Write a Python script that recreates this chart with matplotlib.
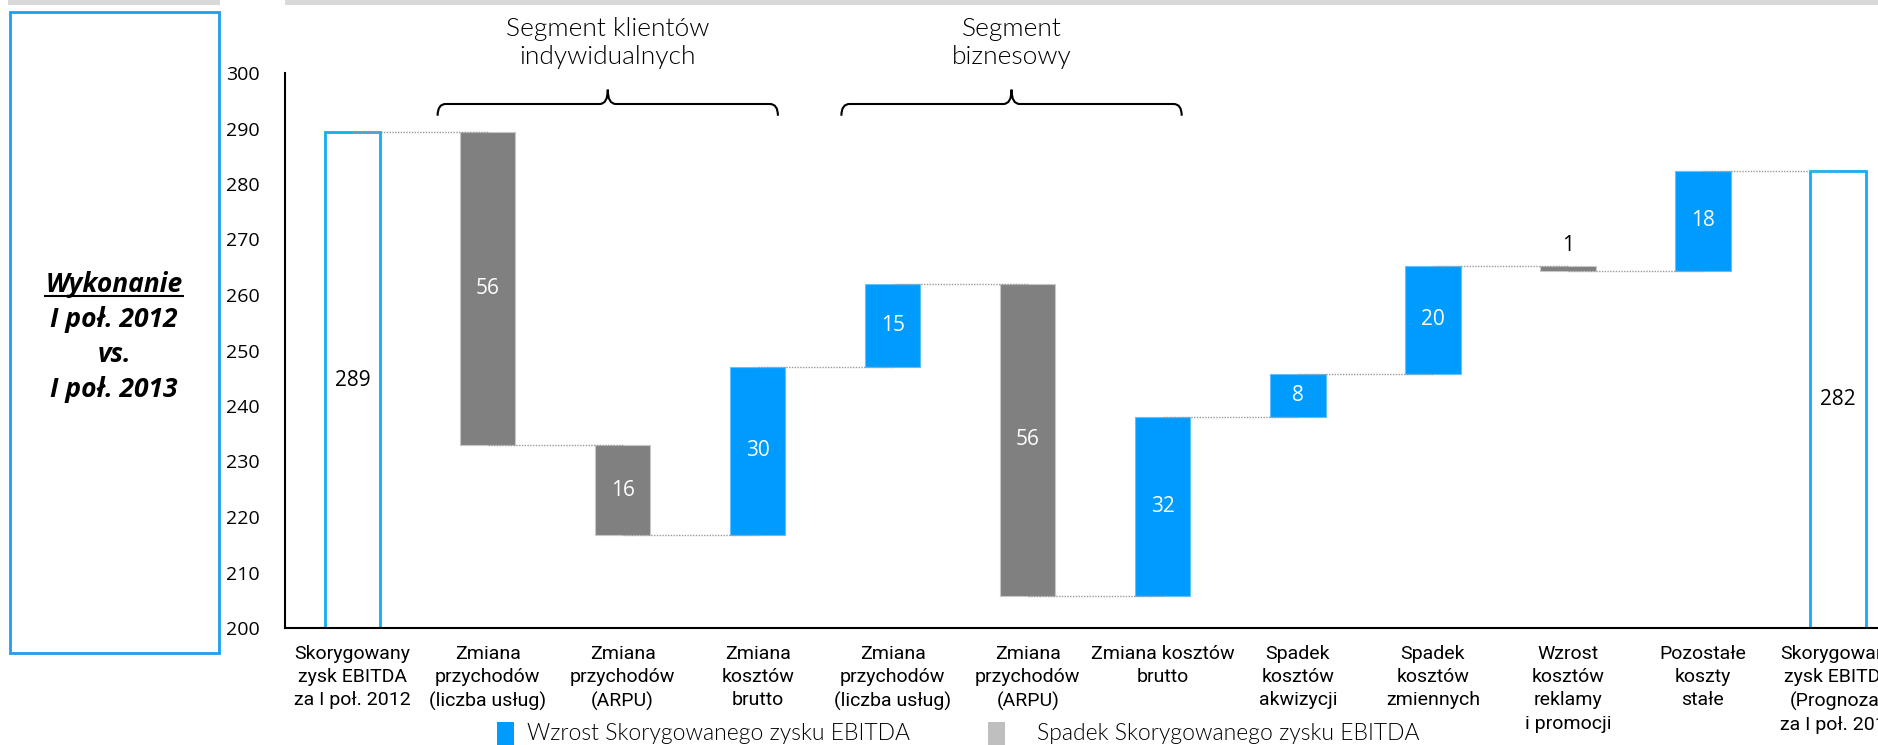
import matplotlib
matplotlib.use("Agg")
import matplotlib.pyplot as plt
import numpy as np
from matplotlib.patches import Rectangle
from matplotlib.path import Path
from matplotlib.patches import PathPatch
from matplotlib.transforms import blended_transform_factory

# EBITDA bridge data (mln zł)
start_value = 289.3
deltas = [-56.4, -16.1, 30.3, 14.9, -56.2, 32.3, 7.6, 19.6, -1.0, 18.1]
categories = [
    "Skorygowany\nzysk EBITDA\nza I poł. 2012",
    "Zmiana\nprzychodów\n(liczba usług)",
    "Zmiana\nprzychodów\n(ARPU)",
    "Zmiana\nkosztów\nbrutto",
    "Zmiana\nprzychodów\n(liczba usług)",
    "Zmiana\nprzychodów\n(ARPU)",
    "Zmiana kosztów\nbrutto",
    "Spadek\nkosztów\nakwizycji",
    "Spadek\nkosztów\nzmiennych",
    "Wzrost\nkosztów\nreklamy\ni promocji",
    "Pozostałe\nkoszty\nstałe",
    "Skorygowany\nzysk EBITDA\n(Prognoza)\nza I poł. 2013",
]
segments = ["Segment klientów\nindywidualnych", "Segment\nbiznesowy"]
segment_spans = [(0.63, 3.15), (3.62, 6.14)]
legend_labels = ["Wzrost Skorygowanego zysku EBITDA", "Spadek Skorygowanego zysku EBITDA"]
panel_lines = ["Wykonanie", "I poł. 2012", "vs.", "I poł. 2013"]

BLUE = "#009BFF"
GRAY = "#808080"
BOX = "#12AEEF"
num_font = ["Open Sans", "DejaVu Sans"]
cat_font = ["Roboto", "DejaVu Sans"]
thin_font = ["Lato", "DejaVu Sans"]

levels = start_value + np.cumsum(deltas)
end_value = levels[-1]

W, H = 1878, 745
fig = plt.figure(figsize=(W / 100, H / 100), dpi=100)
ax = fig.add_axes([285 / W, 1 - 628 / H, 1 - 285 / W, (628 - 73) / H])

x = np.arange(len(categories))
bw = 0.41

# total bars as outlined boxes
ax.bar([x[0], x[-1]], [start_value - 200, end_value - 200], bottom=200, width=bw,
       facecolor="white", edgecolor=BOX, linewidth=2, zorder=2)
ax.text(x[0], (start_value + 200) / 2, f"{start_value:.0f}", ha="center", va="center",
        fontsize=15, family=num_font, color="black", zorder=4)
ax.text(x[-1], (end_value + 200) / 2, f"{end_value:.0f}", ha="center", va="center",
        fontsize=15, family=num_font, color="black", zorder=4)

# floating change bars
prev = np.concatenate([[start_value], levels[:-1]])
for i, (d, p, lv) in enumerate(zip(deltas, prev, levels)):
    xi = x[i + 1]
    lo, hi = min(p, lv), max(p, lv)
    col = BLUE if d > 0 else GRAY
    ec = "#5ec2ff" if d > 0 else "#c8c8c8"
    ax.bar(xi, hi - lo, bottom=lo, width=bw, color=col, edgecolor=ec, linewidth=0.8, zorder=2)
    if abs(d) >= 3:
        ax.text(xi, (lo + hi) / 2, f"{abs(d):.0f}", ha="center", va="center",
                fontsize=15, family=num_font, color="white", zorder=4)
    else:
        ax.annotate(f"{abs(d):.0f}", (xi, hi), xytext=(0, 7), textcoords="offset points",
                    ha="center", va="bottom", fontsize=15, family=num_font, color="black")

# dotted connectors between bar ends
conn = np.concatenate([[start_value], levels])
for i in range(len(conn)):
    ax.plot([x[i], x[i + 1]], [conn[i], conn[i]], color="#9a9a9a", linewidth=1,
            linestyle=(0, (1, 1)), zorder=3)

ax.set_xlim(-0.5, 11.296)
ax.set_ylim(200, 300)
ax.set_yticks(np.arange(200, 301, 10))
ax.set_xticks(x)
ax.set_xticklabels(categories, family=cat_font, fontsize=14, linespacing=1.38)
for lab in ax.get_yticklabels():
    lab.set_family(num_font)
    lab.set_fontsize(14)
ax.tick_params(axis="both", length=0)
ax.tick_params(axis="y", pad=18)
ax.tick_params(axis="x", pad=12)
ax.spines["top"].set_visible(False)
ax.spines["right"].set_visible(False)
ax.spines["left"].set_linewidth(1.5)
ax.spines["bottom"].set_linewidth(1.5)

# segment braces with headings
def brace(x0, x1, ytop, ybot):
    xm = (x0 + x1) / 2
    ymid = ybot + (ytop - ybot) * 0.45
    r = 0.06
    verts = [(x0, ybot), (x0, ymid), (x0 + r, ymid), (xm - r, ymid), (xm, ymid), (xm, ytop),
             (xm, ymid), (xm + r, ymid), (x1 - r, ymid), (x1, ymid), (x1, ybot)]
    codes = [Path.MOVETO, Path.CURVE3, Path.CURVE3, Path.LINETO, Path.CURVE3, Path.CURVE3,
             Path.CURVE3, Path.CURVE3, Path.LINETO, Path.CURVE3, Path.CURVE3]
    ax.add_patch(PathPatch(Path(verts, codes), facecolor="none", edgecolor="black",
                           linewidth=1.5, clip_on=False))

tr = blended_transform_factory(ax.transData, fig.transFigure)
for (x0, x1), name in zip(segment_spans, segments):
    brace(x0, x1, 297.0, 292.3)
    ax.text((x0 + x1) / 2, 1 - 43 / H, name, transform=tr, ha="center", va="center",
            fontsize=19, family=thin_font, fontweight=300, linespacing=1.25)

# grey strips along the top edge
fig.patches.append(Rectangle((8 / W, 1 - 5 / H), 212 / W, 5 / H, transform=fig.transFigure,
                             facecolor="#d9d9d9", edgecolor="none"))
fig.patches.append(Rectangle((285 / W, 1 - 5 / H), 1 - 285 / W, 5 / H, transform=fig.transFigure,
                             facecolor="#d9d9d9", edgecolor="none"))

# left caption panel
fig.patches.append(Rectangle((10 / W, 1 - 653 / H), 209 / W, 641 / H, transform=fig.transFigure,
                             facecolor="none", edgecolor="#1E9EF0", linewidth=2))
for j, line in enumerate(panel_lines):
    t = fig.text(114 / W, 1 - (284 + 35 * j) / H, line, ha="center", va="center",
                 fontsize=19, family=num_font, fontweight="bold", fontstyle="italic")
    if j == 0:
        fig.canvas.draw()
        bb = t.get_window_extent()
        fig.add_artist(plt.Line2D([bb.x0 / W, bb.x1 / W], [(bb.y0 + 1) / H, (bb.y0 + 1) / H],
                                  transform=fig.transFigure, color="black", linewidth=1.5))

# legend
for (sx, tx, col), lab in zip([(497, 527, BLUE), (988, 1037, "#bfbfbf")], legend_labels):
    fig.patches.append(Rectangle((sx / W, 0), 17 / W, 23 / H, transform=fig.transFigure,
                                 facecolor=col, edgecolor="none"))
    fig.text(tx / W, 1 - 733 / H, lab, ha="left", va="center", fontsize=16.5,
             family=thin_font, fontweight=300)

fig.savefig("out.png", dpi=100)
